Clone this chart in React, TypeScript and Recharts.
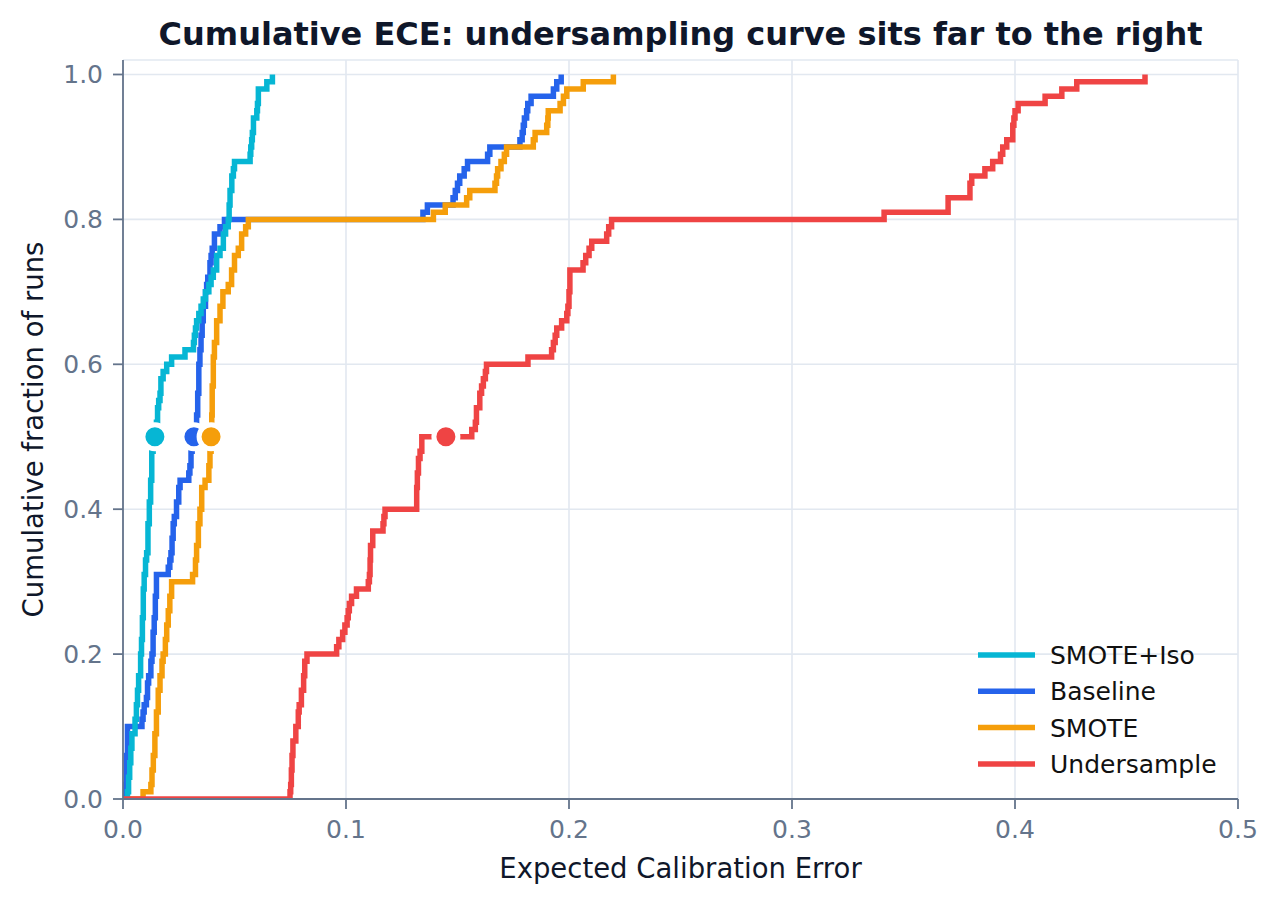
import React from "react";
import {
  CartesianGrid,
  ComposedChart,
  Line,
  ReferenceDot,
  XAxis,
  YAxis,
} from "recharts";

const FONT = "'DejaVu Sans', 'Liberation Sans', sans-serif";

// ECDF breakpoints: ECE value where the cumulative fraction steps up to the matching frac
const isoEce = [
  0, 0.002, 0.0025, 0.003, 0.0035, 0.004, 0.0054, 0.006, 0.0065, 0.007, 0.0079, 0.0083,
  0.0087, 0.0091, 0.0095, 0.0101, 0.0106, 0.0112, 0.0118, 0.0124, 0.0129, 0.0135, 0.0142,
  0.015, 0.0155, 0.016, 0.0166, 0.017, 0.018, 0.0196, 0.0218, 0.0278, 0.0316, 0.032, 0.0325,
  0.033, 0.034, 0.035, 0.036, 0.037, 0.0385, 0.0395, 0.0405, 0.042, 0.0435, 0.045, 0.046,
  0.0472, 0.0476, 0.048, 0.0488, 0.0495, 0.05, 0.057, 0.0573, 0.0577, 0.058, 0.0585, 0.06,
  0.0603, 0.0607, 0.0645, 0.067,
];
const isoFrac = [
  0, 0.01, 0.03, 0.05, 0.07, 0.09, 0.11, 0.13, 0.15, 0.17, 0.2, 0.22, 0.25, 0.29, 0.31, 0.33,
  0.34, 0.38, 0.41, 0.44, 0.48, 0.5, 0.51, 0.52, 0.54, 0.55, 0.56, 0.58, 0.59, 0.6, 0.61,
  0.62, 0.63, 0.64, 0.65, 0.66, 0.67, 0.68, 0.69, 0.7, 0.71, 0.72, 0.73, 0.75, 0.76, 0.78,
  0.79, 0.8, 0.82, 0.84, 0.86, 0.87, 0.88, 0.89, 0.9, 0.91, 0.92, 0.94, 0.95, 0.96, 0.98,
  0.99, 1.0,
];

const baseEce = [
  0, 0.001, 0.0015, 0.002, 0.0085, 0.009, 0.0095, 0.0105, 0.011, 0.0115, 0.0125, 0.013,
  0.0135, 0.014, 0.0145, 0.015, 0.0203, 0.021, 0.0215, 0.022, 0.0225, 0.023, 0.024, 0.025,
  0.0256, 0.0295, 0.03, 0.0305, 0.031, 0.032, 0.0325, 0.033, 0.0335, 0.034, 0.0345, 0.035,
  0.0355, 0.036, 0.037, 0.0375, 0.038, 0.039, 0.0395, 0.04, 0.041, 0.0435, 0.0455, 0.1345,
  0.1365, 0.148, 0.149, 0.15, 0.151, 0.153, 0.1545, 0.1635, 0.1645, 0.178, 0.179, 0.1795,
  0.18, 0.181, 0.1815, 0.183, 0.193, 0.1945, 0.1965,
];
const baseFrac = [
  0, 0.02, 0.06, 0.1, 0.11, 0.12, 0.13, 0.14, 0.16, 0.17, 0.19, 0.2, 0.23, 0.25, 0.28, 0.31,
  0.32, 0.33, 0.34, 0.36, 0.38, 0.39, 0.41, 0.43, 0.44, 0.45, 0.46, 0.48, 0.49, 0.5, 0.51,
  0.53, 0.56, 0.6, 0.62, 0.64, 0.66, 0.68, 0.7, 0.71, 0.72, 0.74, 0.75, 0.76, 0.78, 0.79,
  0.8, 0.81, 0.82, 0.83, 0.84, 0.85, 0.86, 0.87, 0.88, 0.89, 0.9, 0.91, 0.92, 0.93, 0.94,
  0.95, 0.96, 0.97, 0.98, 0.99, 1.0,
];

const smoteEce = [
  0, 0.009, 0.0125, 0.013, 0.0136, 0.0143, 0.015, 0.0158, 0.0166, 0.0175, 0.018, 0.019,
  0.0196, 0.0203, 0.021, 0.0218, 0.0312, 0.0325, 0.033, 0.0338, 0.0345, 0.0353, 0.0368,
  0.0385, 0.039, 0.0395, 0.0398, 0.04, 0.0405, 0.041, 0.042, 0.0435, 0.0448, 0.0472, 0.0487,
  0.05, 0.0517, 0.0532, 0.055, 0.0562, 0.1392, 0.1445, 0.1541, 0.1555, 0.1668, 0.1675,
  0.168, 0.1695, 0.171, 0.172, 0.184, 0.1848, 0.19, 0.1905, 0.1907, 0.196, 0.1975, 0.199,
  0.2064, 0.2199,
];
const smoteFrac = [
  0, 0.01, 0.02, 0.04, 0.06, 0.09, 0.12, 0.15, 0.17, 0.19, 0.2, 0.22, 0.24, 0.26, 0.28, 0.3,
  0.31, 0.33, 0.35, 0.38, 0.4, 0.43, 0.44, 0.46, 0.48, 0.5, 0.53, 0.57, 0.61, 0.63, 0.66,
  0.68, 0.7, 0.71, 0.73, 0.75, 0.76, 0.78, 0.79, 0.8, 0.81, 0.82, 0.83, 0.84, 0.85, 0.86,
  0.87, 0.88, 0.89, 0.9, 0.91, 0.92, 0.93, 0.94, 0.95, 0.96, 0.97, 0.98, 0.99, 1.0,
];

const underEce = [
  0, 0.0749, 0.0752, 0.0755, 0.0758, 0.0762, 0.0775, 0.0786, 0.079, 0.08, 0.081, 0.0815,
  0.0825, 0.0958, 0.0968, 0.0985, 0.0995, 0.1005, 0.101, 0.1015, 0.1025, 0.1047, 0.11,
  0.1105, 0.1108, 0.111, 0.112, 0.1166, 0.117, 0.1175, 0.1317, 0.132, 0.1325, 0.1332, 0.134,
  0.1564, 0.158, 0.1585, 0.16, 0.1608, 0.1616, 0.1625, 0.163, 0.1816, 0.1922, 0.193, 0.1938,
  0.1945, 0.1967, 0.199, 0.1995, 0.2, 0.2004, 0.2063, 0.2075, 0.209, 0.2102, 0.2169, 0.2178,
  0.2191, 0.3413, 0.37, 0.3798, 0.3806, 0.3865, 0.39, 0.3935, 0.3945, 0.3963, 0.399, 0.3995,
  0.4, 0.4014, 0.4135, 0.421, 0.4277, 0.4583,
];
const underFrac = [
  0, 0.01, 0.02, 0.04, 0.06, 0.08, 0.1, 0.12, 0.13, 0.15, 0.17, 0.19, 0.2, 0.21, 0.22, 0.23,
  0.24, 0.25, 0.26, 0.27, 0.28, 0.29, 0.3, 0.31, 0.33, 0.35, 0.37, 0.38, 0.39, 0.4, 0.43,
  0.45, 0.47, 0.48, 0.5, 0.51, 0.52, 0.54, 0.56, 0.57, 0.58, 0.59, 0.6, 0.61, 0.62, 0.63,
  0.64, 0.65, 0.66, 0.67, 0.68, 0.7, 0.73, 0.74, 0.75, 0.76, 0.77, 0.78, 0.79, 0.8, 0.81,
  0.83, 0.85, 0.86, 0.87, 0.88, 0.89, 0.9, 0.91, 0.93, 0.94, 0.95, 0.96, 0.97, 0.98, 0.99,
  1.0,
];

// median ECE per method, marked on the 0.5 line
const medians = [0.0143, 0.0318, 0.0395, 0.1448];

const seriesNames = ["SMOTE+Iso", "Baseline", "SMOTE", "Undersample"];
const seriesColors = ["#06b6d4", "#2563eb", "#f59e0b", "#ef4444"];

const xTicks = [0, 0.1, 0.2, 0.3, 0.4, 0.5];
const yTicks = [0, 0.2, 0.4, 0.6, 0.8, 1.0];

const zip = (xs: number[], ys: number[]) => xs.map((x, i) => ({ x, y: ys[i] }));

const series = [
  { name: seriesNames[0], color: seriesColors[0], data: zip(isoEce, isoFrac), median: medians[0] },
  { name: seriesNames[1], color: seriesColors[1], data: zip(baseEce, baseFrac), median: medians[1] },
  { name: seriesNames[2], color: seriesColors[2], data: zip(smoteEce, smoteFrac), median: medians[2] },
  { name: seriesNames[3], color: seriesColors[3], data: zip(underEce, underFrac), median: medians[3] },
];

// paint order: baseline under smote and smote+iso, undersample on top
const drawOrder = [1, 2, 0, 3];

const AXIS = "#64748b";
const GRID = "#e2e8f0";
const INK = "#0f172a";
const LINE_W = 5.5;
const tickStyle = { fill: AXIS, fontSize: 25, fontFamily: FONT };

export default function App() {
  return (
    <div
      style={{
        position: "absolute",
        left: 0,
        top: 0,
        width: 1281,
        height: 906,
        background: "#fff",
        fontFamily: FONT,
      }}
    >
      <ComposedChart
        width={1281}
        height={906}
        margin={{ top: 60, right: 43, bottom: 67, left: 43 }}
      >
        <CartesianGrid stroke={GRID} strokeWidth={1.6} />
        <XAxis
          type="number"
          dataKey="x"
          domain={[0, 0.5]}
          ticks={xTicks}
          allowDataOverflow
          tickFormatter={(v: number) => v.toFixed(1)}
          height={40}
          tickSize={10}
          tickMargin={11}
          stroke={AXIS}
          strokeWidth={1.8}
          tick={tickStyle}
        />
        <YAxis
          type="number"
          dataKey="y"
          domain={[0, 1.02]}
          ticks={yTicks}
          allowDataOverflow
          tickFormatter={(v: number) => v.toFixed(1)}
          width={80}
          tickSize={10}
          tickMargin={10}
          stroke={AXIS}
          strokeWidth={1.8}
          tick={tickStyle}
        />
        {drawOrder.map((i) => (
          <Line
            key={series[i].name}
            data={series[i].data}
            dataKey="y"
            type="stepAfter"
            stroke={series[i].color}
            strokeWidth={LINE_W}
            style={{ strokeWidth: LINE_W }}
            dot={false}
            activeDot={false}
            isAnimationActive={false}
          />
        ))}
        {series.map((s) => (
          <ReferenceDot
            key={s.name + "-median"}
            x={s.median}
            y={0.5}
            r={12}
            fill={s.color}
            stroke="#ffffff"
            strokeWidth={5}
            ifOverflow="visible"
          />
        ))}
      </ComposedChart>

      <svg
        width={1281}
        height={906}
        style={{ position: "absolute", left: 0, top: 0, pointerEvents: "none" }}
      >
        <text
          x={680.5}
          y={45}
          textAnchor="middle"
          fontSize={32}
          fontWeight="bold"
          fill={INK}
          fontFamily={FONT}
        >
          Cumulative ECE: undersampling curve sits far to the right
        </text>
        <text x={680.5} y={878} textAnchor="middle" fontSize={27.5} fill={INK} fontFamily={FONT}>
          Expected Calibration Error
        </text>
        <text
          x={43}
          y={429.5}
          textAnchor="middle"
          fontSize={27.5}
          fill={INK}
          fontFamily={FONT}
          transform="rotate(-90 43 429.5)"
        >
          Cumulative fraction of runs
        </text>
        {series.map((s, i) => {
          const cy = 655 + i * 36.3;
          return (
            <g key={s.name + "-legend"}>
              <line x1={978} x2={1035} y1={cy} y2={cy} stroke={s.color} strokeWidth={LINE_W} />
              <text x={1050} y={cy + 9} fontSize={25} fill="#111111" fontFamily={FONT}>
                {s.name}
              </text>
            </g>
          );
        })}
      </svg>
    </div>
  );
}
